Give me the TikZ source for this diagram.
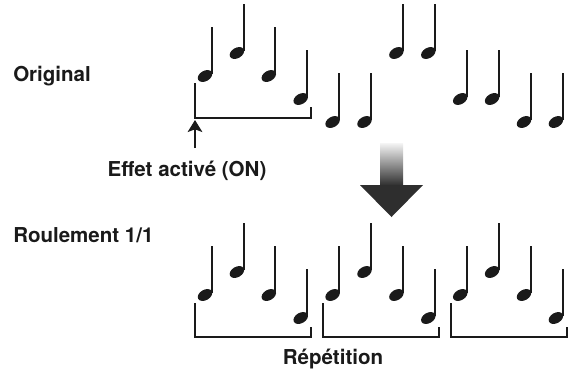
\documentclass[tikz,border=0pt]{standalone}
\usepackage{fontspec}
\setmainfont{TeX Gyre Heros}
\usepackage{xcolor}
\usepackage{tikz}
\usetikzlibrary{arrows.meta,positioning,calc}
\definecolor{ink}{HTML}{1A1A1A}

\begin{document}
\begin{tikzpicture}[
      x=0.75pt, y=-0.75pt,
      every node/.style={font=\fontsize{15.4}{18}\selectfont\bfseries, text=ink, inner sep=0pt},
      stem/.style={line width=1.5pt, draw=ink},
      bracket/.style={line width=1.1pt, draw=ink},
      onarr/.style={-{Stealth[length=9pt,width=11pt,inset=2pt]}, line width=1.1pt, draw=ink},
      quarter/.pic={
        \fill[ink, rotate=30] (0,0) ellipse [x radius=7.8, y radius=5.2];
        \draw[stem] (6.6,-2) -- (6.6,-49);
      }
  ]
    \useasboundingbox (0,0) rectangle (578,369);

    % labels
    \node[anchor=base west] (orig) at (13,81) {Original};
    \node[anchor=base] (effet) at (187,176) {Effet activ\'e (ON)};
    \node[anchor=base west] (roul) at (13,242) {Roulement 1/1};
    \node[anchor=base] (repet) at (333,364) {R\'ep\'etition};

    % original phrase
    \foreach \lv [count=\i from 0] in {2,3,2,1,0,0,3,3,1,1,0,0}
      \pic at ({205+31.9*\i},{122-23*\lv}) {quarter};
    \draw[bracket] (195,83) |- (311,118) -- (311,107);

    % effect on
    \coordinate (ontail) at (195,148);
    \coordinate (ontip) at (195,120);
    \draw[onarr] (ontail) -- (ontip);

    % big arrow
    \shade[top color=black!4, bottom color=black!82] (380,143) rectangle (403,185.5);
    \fill[black!82] (360,185) -- (423,185) -- (391.5,217) -- cycle;

    % roll 1/1
    \foreach \lv [count=\i from 0] in {2,3,2,1,2,3,2,1,2,3,2,1}
      \pic at ({205+31.9*\i},{341-23*\lv}) {quarter};
    \foreach \k in {0,1,2}
      \draw[bracket] ({195+128*\k},303) |- ({311+128*\k},337) -- ++(0,-10);
  \end{tikzpicture}
\end{document}
